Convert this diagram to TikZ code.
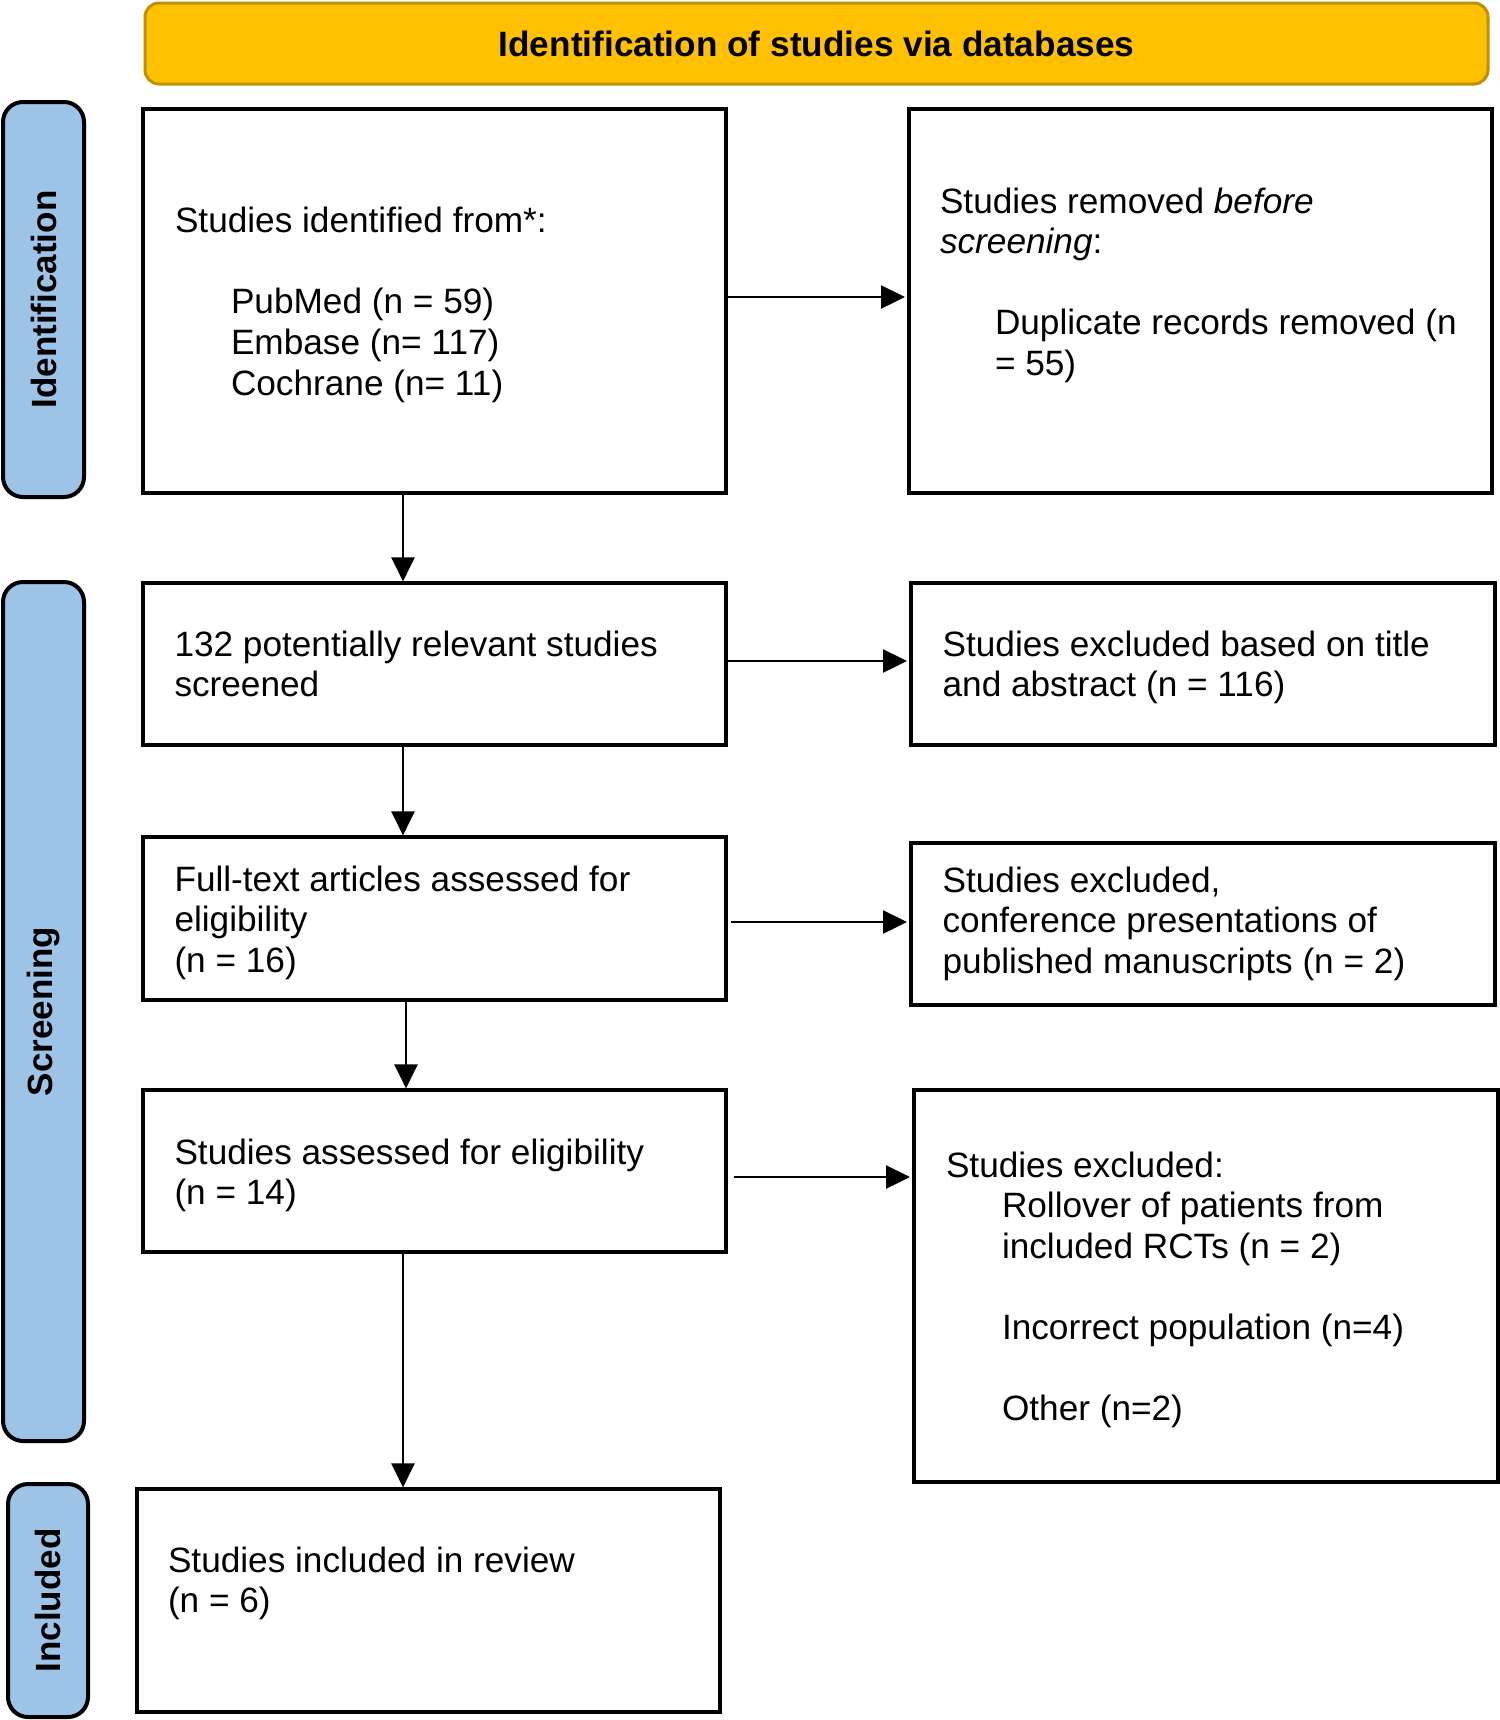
\documentclass[tikz,border=0pt]{standalone}
\usepackage{fontspec}
\setmainfont{Liberation Sans}
\usetikzlibrary{arrows.meta}
\definecolor{hdrfill}{HTML}{FFC000}
\definecolor{hdrdraw}{HTML}{BF9000}
\definecolor{sidefill}{HTML}{9DC3E6}
\begin{document}
\begin{tikzpicture}[x=0.5pt,y=-0.5pt,
  box/.style={draw=black,line width=1.6pt,fill=white,inner sep=0,outer sep=0,anchor=north west},
  hdr/.style={draw=hdrdraw,fill=hdrfill,line width=1.5pt,rounded corners=7pt,anchor=north west,inner sep=0,outer sep=0},
  side/.style={draw=black,fill=sidefill,line width=2pt,rounded corners=10pt,anchor=north west,inner sep=0,outer sep=0},
  txt/.style={anchor=north west,inner sep=0,outer sep=0,align=left,font=\fontsize{17.6}{20.3}\selectfont},
  lbl/.style={inner sep=0,font=\fontsize{17.5}{20.3}\selectfont\bfseries,rotate=90},
  hdrtxt/.style={inner sep=0,font=\fontsize{17.6}{20.3}\selectfont\bfseries},
  arr/.style={-{Triangle[length=12pt,width=11.5pt]},line width=1.2pt,shorten >=2pt}]

\useasboundingbox (0,0) rectangle (1500,1720);

% header
\node[hdr,minimum width=671.5pt,minimum height=40.5pt] (hdr) at (145,3) {};
\node[hdrtxt] (hdrt) at (hdr.center) {Identification of studies via databases};

% side labels
\node[side,minimum width=40.5pt,minimum height=197.5pt] (s1) at (3,102) {};
\node[lbl] (s1t) at (s1.center) {Identification};
\node[side,minimum width=40.5pt,minimum height=429.5pt] (s2) at (3,582) {};
\node[lbl] (s2t) at (s2.center) {Screening};
\node[side,minimum width=40pt,minimum height=116.5pt] (s3) at (8,1484) {};
\node[lbl] (s3t) at (s3.center) {Included};

% boxes
\node[box,minimum width=291.5pt,minimum height=192pt] (b1) at (143,109) {};
\node[box,minimum width=291.5pt,minimum height=192pt] (b2) at (909,109) {};
\node[box,minimum width=291.5pt,minimum height=81pt] (b3) at (143,583) {};
\node[box,minimum width=292pt,minimum height=81pt] (b4) at (911,583) {};
\node[box,minimum width=291.5pt,minimum height=81.5pt] (b5) at (143,837) {};
\node[box,minimum width=292pt,minimum height=81pt] (b6) at (911,843) {};
\node[box,minimum width=291.5pt,minimum height=81pt] (b7) at (143,1090) {};
\node[box,minimum width=292pt,minimum height=196pt] (b8) at (914,1090) {};
\node[box,minimum width=291.5pt,minimum height=111.5pt] (b9) at (137,1489) {};

% texts
\node[txt] (t1) at (175,204.2) {\strut Studies identified from*:\\[20.3pt]
  \hspace*{28pt}PubMed (n = 59)\\
  \hspace*{28pt}Embase (n= 117)\\
  \hspace*{28pt}Cochrane (n= 11)};
\node[txt] (t2) at (940,184.6) {\strut Studies removed \textit{before}\\
  \textit{screening}:\\[20.3pt]
  \hspace*{27.5pt}Duplicate records removed (n\\
  \hspace*{27.5pt}= 55)};
\node[txt] (t3) at (174.5,627.6) {\strut 132 potentially relevant studies\\ screened};
\node[txt] (t4) at (942.6,627.6) {\strut Studies excluded based on title\\ and abstract (n = 116)};
\node[txt] (t5) at (174.5,862.6) {\strut Full-text articles assessed for\\ eligibility\\ (n = 16)};
\node[txt] (t6) at (942.6,863.6) {\strut Studies excluded,\\ conference presentations of\\ published manuscripts (n = 2)};
\node[txt] (t7) at (174.5,1135.6) {\strut Studies assessed for eligibility\\ (n = 14)};
\node[txt] (t8) at (946,1148.6) {\strut Studies excluded:\\
  \hspace*{28pt}Rollover of patients from\\
  \hspace*{28pt}included RCTs (n = 2)\\[20.3pt]
  \hspace*{28pt}Incorrect population (n=4)\\[20.3pt]
  \hspace*{28pt}Other (n=2)};
\node[txt] (t9) at (168,1543.6) {\strut Studies included in review\\ (n = 6)};

% connector guides
\coordinate (va) at (403,0);
\coordinate (vb) at (406,0);
\coordinate (h1) at (0,297);
\coordinate (h2) at (0,661);
\coordinate (h3) at (0,922);
\coordinate (h4) at (0,1177);

% horizontal arrows
\draw[arr] (b1.east |- h1) -- (b2.west |- h1);
\draw[arr] (b3.east |- h2) -- (b4.west |- h2);
\draw[arr,shorten <=2.5pt] (b5.east |- h3) -- (b6.west |- h3);
\draw[arr,shorten <=4pt] (b7.east |- h4) -- (b8.west |- h4);

% vertical arrows
\draw[arr,shorten >=0.8pt] (b1.south -| va) -- (b3.north -| va);
\draw[arr,shorten >=0.8pt] (b3.south -| va) -- (b5.north -| va);
\draw[arr,shorten >=0.8pt] (b5.south -| vb) -- (b7.north -| vb);
\draw[arr,shorten >=0.8pt] (b7.south -| va) -- (b9.north -| va);
\end{tikzpicture}
\end{document}
